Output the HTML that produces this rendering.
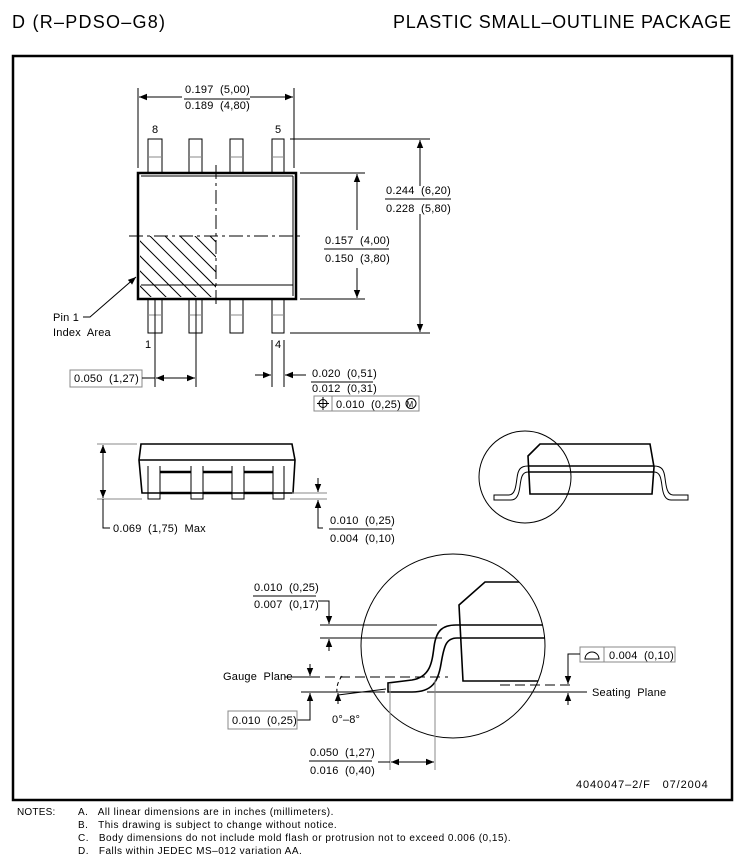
<!DOCTYPE html>
<html><head><meta charset="utf-8"><style>
html,body{margin:0;padding:0;background:#fff}
svg{display:block}
text{font-family:"Liberation Sans",sans-serif;font-size:11px;fill:#000;white-space:pre;letter-spacing:0.2px}
.t{stroke:#000;stroke-width:1;fill:none}
.k{stroke:#000;stroke-width:2.5;fill:none}
.m{stroke:#000;stroke-width:1.6;fill:none}
.g{stroke:#888;stroke-width:1;fill:none}
.d{stroke:#000;stroke-width:1;fill:none;stroke-dasharray:14 4 3 4}
</style></head><body>
<svg width="744" height="867" viewBox="0 0 744 867" xmlns="http://www.w3.org/2000/svg">
<defs>
<marker id="a" viewBox="0 0 10 10" refX="10" refY="5" markerWidth="8" markerHeight="8" orient="auto-start-reverse" markerUnits="userSpaceOnUse"><path d="M0,1 L10,5 L0,9 z" fill="#000"/></marker>
<clipPath id="c1"><circle cx="453" cy="646" r="92"/></clipPath>
<clipPath id="hc"><rect x="140" y="236" width="76" height="61"/></clipPath>
</defs>
<text x="12" y="28" style="font-size:18px;letter-spacing:0" textLength="153">D (R–PDSO–G8)</text>
<text x="393" y="28" style="font-size:18px;letter-spacing:0" textLength="338">PLASTIC SMALL–OUTLINE PACKAGE</text>
<rect x="13" y="56" width="719" height="744" class="k" stroke-width="3"/>

<!-- TOP VIEW -->
<g>
<rect x="148" y="139" width="14" height="34" class="t"/>
<rect x="189" y="139" width="13" height="34" class="t"/>
<rect x="230" y="139" width="13" height="34" class="t"/>
<rect x="272" y="139" width="12" height="34" class="t"/>
<rect x="148" y="299" width="14" height="34" class="t"/>
<rect x="189" y="299" width="13" height="34" class="t"/>
<rect x="230" y="299" width="13" height="34" class="t"/>
<rect x="272" y="299" width="12" height="34" class="t"/>
<path d="M148 157h14M189 157h13M230 157h13M272 157h12M148 315h14M189 315h13M230 315h13M272 315h12" class="g"/>
<rect x="138" y="173" width="158" height="126" class="k" stroke-width="3"/>
<path d="M141 176h152M293 176v120M141 285h152" class="t"/>
<path d="M216 165V308" class="d"/>
<path d="M129 236H304" class="d"/>
<g clip-path="url(#hc)">
<path d="M80 226l80 80M95 226l80 80M110 226l80 80M125 226l80 80M140 226l80 80M155 226l80 80M170 226l80 80M185 226l80 80M200 226l80 80" class="t"/></g>
<text x="152" y="133">8</text><text x="275" y="133">5</text>
<text x="145" y="348">1</text><text x="275" y="348">4</text>
<path d="M138 88v80M294 88v80" class="t"/>
<path d="M182 97H139" class="t" marker-end="url(#a)"/>
<path d="M250 97H293" class="t" marker-end="url(#a)"/>
<text x="185" y="93">0.197  (5,00)</text><path d="M184 99h66" class="t"/><text x="185" y="109">0.189  (4,80)</text>
<path d="M290 139h140M290 333h140M300 173h65M300 299h65" class="t"/>
<path d="M420 186V140" class="t" marker-end="url(#a)"/>
<path d="M420 214V332" class="t" marker-end="url(#a)"/>
<text x="386" y="194">0.244  (6,20)</text><path d="M385 199h66" class="t"/><text x="386" y="212">0.228  (5,80)</text>
<path d="M357 230V174" class="t" marker-end="url(#a)"/>
<path d="M357 268V298" class="t" marker-end="url(#a)"/>
<text x="325" y="244">0.157  (4,00)</text><path d="M324 249h65" class="t"/><text x="325" y="262">0.150  (3,80)</text>
<path d="M83 317h7L136 277" class="t" marker-end="url(#a)"/>
<text x="53" y="321">Pin 1</text><text x="53" y="336">Index  Area</text>
<path d="M155 300v87M196 300v87M272 340v47M284 340v47" class="t"/>
<rect x="70" y="370" width="72" height="17" class="g" stroke="#555"/>
<text x="74" y="382">0.050  (1,27)</text>
<path d="M142 378h13" class="t"/>
<path d="M176 378h-20" class="t" marker-end="url(#a)"/>
<path d="M176 378h19" class="t" marker-end="url(#a)"/>
<path d="M255 375h16" class="t" marker-end="url(#a)"/>
<path d="M306 375h-21" class="t" marker-end="url(#a)"/>
<text x="312" y="377">0.020  (0,51)</text><path d="M311 382h62" class="t"/><text x="312" y="392">0.012  (0,31)</text>
<rect x="314" y="396" width="105" height="15" class="g" stroke="#555"/>
<path d="M332 396v15" class="g"/>
<circle cx="323" cy="403.5" r="4" class="t"/><path d="M317 403.5h12M323 397v13" class="t"/>
<text x="336" y="408">0.010  (0,25)</text>
<circle cx="411" cy="403.5" r="5" class="t"/><text x="406.5" y="407" style="font-size:8px;letter-spacing:0">M</text>
</g>

<!-- SIDE VIEW -->
<g>
<path d="M141 444H292L295 460L293 493H142L139 460Z" class="m"/>
<path d="M139 460H295" class="m"/>
<path d="M148 466v33h12v-33M191 466v33h12v-33M232 466v33h12v-33M273 466v33h11v-33" class="t"/>
<path d="M160 472h31M203 472h29M244 472h29M160 493h31M203 493h29M244 493h29" class="k"/>
<path d="M97 444h40M97 499h45" class="g"/>
<path d="M103 471V445" class="t" marker-end="url(#a)"/>
<path d="M103 471V498" class="t" marker-end="url(#a)"/>
<path d="M103 499v29h7" class="t"/>
<text x="113" y="532">0.069  (1,75)  Max</text>
<path d="M292 493h35M290 499h37" class="g"/>
<path d="M318 478v14" class="t" marker-end="url(#a)"/>
<path d="M318 514v-14" class="t" marker-end="url(#a)"/>
<path d="M318 514v14h5" class="t"/>
<text x="330" y="524">0.010  (0,25)</text><path d="M329 529h63" class="t"/><text x="330" y="542">0.004  (0,10)</text>
</g>

<!-- END VIEW -->
<g>
<circle cx="525" cy="477" r="46" class="t"/>
<path d="M540 444H650L654 467L652 494H530L528 456Z" class="m"/>
<path d="M528 466H654M528 472H654" class="m"/>
<path d="M528 466c-8 0-10 4-11 12s-2 17-8 17h-15v5h17c6 0 8-6 9-14s2-14 8-14" class="t"/>
<path d="M654 466c8 0 10 4 11 12s2 17 8 17h15v5h-17c-6 0-8-6-9-14s-2-14-8-14" class="t"/>
</g>

<!-- DETAIL -->
<g>
<circle cx="453" cy="646" r="92" class="t"/>
<g clip-path="url(#c1)">
<path d="M545 582H485L459 605L463 681H545" class="m"/>
<path d="M456 625H545M457 638H545" class="m"/>
</g>
<path d="M456 625c-14 0-20 6-22 22s-4 30-22 33l-24 3v9h24c20 0 26-10 29-28s5-26 16-26" class="m"/>
<path d="M320 625h117M320 638h122" class="t"/>
<text x="254" y="591">0.010  (0,25)</text><path d="M253 596h63" class="t"/><text x="254" y="608">0.007  (0,17)</text>
<path d="M318 601h11v23" class="t" marker-end="url(#a)"/>
<path d="M329 651v-12" class="t" marker-end="url(#a)"/>
<text x="223" y="680">Gauge  Plane</text>
<path d="M285 677h25" class="t"/>
<path d="M310 677h138" class="t" stroke-dasharray="10 5"/>
<path d="M310 664v12" class="t" marker-end="url(#a)"/>
<path d="M301 692h84M427 692h160" class="t"/>
<path d="M338 695L386 689" class="t"/>
<path d="M310 705v-12" class="t" marker-end="url(#a)"/>
<path d="M310 705v15h-13" class="t"/>
<rect x="228" y="711" width="69" height="18" class="g" stroke="#555"/>
<text x="232" y="724">0.010  (0,25)</text>
<path d="M342 676q-6 8 -5 16" class="t" stroke-dasharray="4 3"/>
<path d="M338 704v-11" class="t" marker-end="url(#a)"/>
<text x="332" y="723">0°–8°</text>
<path d="M390 683v87M435 680v90" class="g"/>
<path d="M412 762h-21" class="t" marker-end="url(#a)"/>
<path d="M412 762h22" class="t" marker-end="url(#a)"/>
<path d="M378 762h12" class="t"/>
<text x="310" y="756">0.050  (1,27)</text><path d="M309 761h63" class="t"/><text x="310" y="774">0.016  (0,40)</text>
<rect x="580" y="647" width="95" height="15" class="g" stroke="#555"/>
<path d="M604 647v15" class="g"/>
<path d="M585 659h14a7 7 0 0 0 -14 0z" class="t"/>
<text x="609" y="659">0.004  (0,10)</text>
<path d="M580 654h-12v30" class="t" marker-end="url(#a)"/>
<path d="M500 685h70" class="t" stroke-dasharray="10 5"/>
<path d="M568 705v-12" class="t" marker-end="url(#a)"/>
<text x="592" y="696">Seating  Plane</text>
</g>

<text x="576" y="788" style="letter-spacing:0.9px">4040047–2/F   07/2004</text>
<text x="17" y="815" style="font-size:10px">NOTES:</text>
<text x="78" y="815" style="font-size:10px;letter-spacing:0.5px">A.   All linear dimensions are in inches (millimeters).</text>
<text x="78" y="828" style="font-size:10px;letter-spacing:0.5px">B.   This drawing is subject to change without notice.</text>
<text x="78" y="841" style="font-size:10px;letter-spacing:0.5px">C.   Body dimensions do not include mold flash or protrusion not to exceed 0.006 (0,15).</text>
<text x="78" y="854" style="font-size:10px;letter-spacing:0.5px">D.   Falls within JEDEC MS–012 variation AA.</text>
</svg>
</body></html>
